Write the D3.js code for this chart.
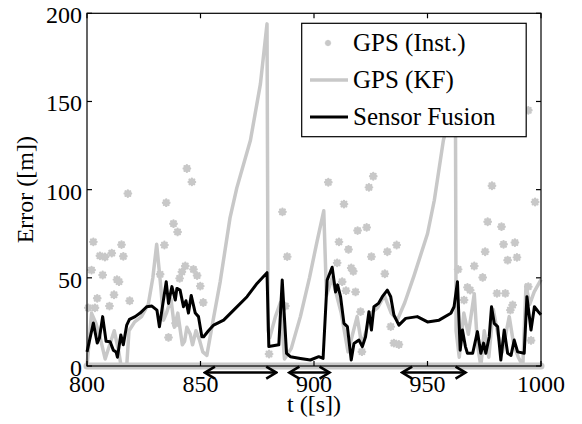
<!DOCTYPE html>
<html lang="en">
<head>
    <meta charset="UTF-8">
    <title>GPS error vs sensor fusion</title>
    <script src="https://cdn.jsdelivr.net/npm/d3@7"></script>
    <style>
        body { margin: 0; background: #fff; }
        svg text { font-family: "Liberation Serif", "Times New Roman", serif; fill: #000; }
    </style>
</head>
<body>
<div id="chart"></div>
<script>
    // GPS (Inst.) fixes: time [s] / error [m]
    var gpsT = [800.6, 802.0, 802.8, 803.5, 804.5, 805.7, 806.9, 807.9, 809.9, 810.9, 811.9, 813.2, 814.1, 815.2, 816.0,
        818.0, 818.8, 832.2, 834.1, 834.9, 835.9, 838.1, 839.0, 839.9, 840.8, 841.8, 843.3, 844.0, 846.2, 846.9,
        848.5, 849.9, 851.2, 880.2, 886.1, 887.4, 888.2, 906.3, 910.2, 911.0, 912.4, 913.2, 914.1, 915.2, 916.4,
        917.3, 918.3, 919.2, 920.5, 921.1, 923.2, 924.2, 925.3, 926.1, 931.2, 932.3, 933.8, 935.2, 936.4, 937.4,
        963.5, 966.1, 967.6, 968.8, 970.6, 974.3, 975.4, 976.5, 978.4, 980.6, 982.6, 983.5, 984.3, 985.3, 986.5,
        987.5, 988.5, 989.4, 994.4, 994.4, 995.6, 997.4];
    var gpsV = [33, 54.4, 70.4, 33, 38.4, 62.5, 51.6, 61.8, 34, 64, 40.4, 49, 47.8, 68.8, 62.2,
        97.8, 37, 52, 68.6, 92.6, 16.2, 80.7, 24.2, 76, 49.7, 53.4, 56.7, 112, 104.4, 54.8,
        51.3, 45.3, 36, 6.8, 87.4, 34, 62, 104.2, 58.5, 70.4, 47.8, 91.8, 42.7, 66.1, 55.6,
        53.7, 42, 76.8, 30.8, 8.1, 78.6, 101.3, 62, 107.6, 52.3, 64.8, 22.3, 13, 68.6, 12.2,
        54.8, 37.4, 44.6, 43, 56.7, 50.2, 64.8, 81.8, 102.2, 41.2, 79, 69, 41.2, 60, 31.7,
        34.6, 70, 61.6, 145, 45, 14.5, 93];

    // GPS (KF)
    var kfT = [800, 802, 804, 806, 808, 810, 812, 814, 815, 817.5, 818.5, 821, 824, 827, 829, 830.7, 832.5, 833.7,
        835, 837, 838.5, 840, 842, 843, 844, 845.5, 846.5, 848, 849.5, 851, 852.8, 855, 858.7, 863, 866, 872,
        876.4, 879.3, 879.8, 880.5, 883, 885.2, 887, 890, 894, 898, 901.4, 904.3, 905.5, 908, 910, 912, 915,
        917, 919, 921, 923, 925, 928, 931, 934, 936.7, 940, 944, 950, 953, 957, 961.5, 962.3, 962.6, 964, 966,
        968, 970.6, 972, 973.5, 975, 977, 979, 981, 983, 986, 988, 990, 992, 993.4, 995, 997, 1000];
    var kfV = [0, 30, 24, 15, 4, 12, 20, 8, 0, 0, 20, 25, 28, 35, 50, 69, 45, 26,
        30, 38, 22, 30, 12, 14, 22, 18, 12, 20, 15, 8, 6, 22, 48, 84, 101, 128,
        160, 194, 20, 16, 28, 36, 4, 10, 28, 50, 71, 88, 40, 50, 40, 30, 8,
        18, 28, 12, 20, 30, 33, 40, 30, 26, 36, 51, 75, 94, 128, 150, 150, 20, 5, 30,
        18, 41, 12, 0, 20, 5, 32, 18, 8, 28, 12, 5, 0, 46, 35, 42, 49];

    // Sensor Fusion
    var sfT = [800, 802.8, 804.5, 805.5, 806.9, 808.4, 810.2, 811.6, 812.8, 813.4, 814.9, 816, 817.5, 818.7, 821.2,
        823.4, 826.3, 828.6, 830.8, 831.9, 833, 834.9, 835.9, 837.4, 838.9, 839.6, 841, 842.5, 843.6, 844.7,
        845.9, 847.7, 849.1, 850.6, 851.4, 853.5, 855.8, 860.2, 864.6, 870.5, 874.9, 879.3, 880.1, 884.5, 886,
        887.9, 889.6, 894, 898.4, 902.1, 904, 905.8, 908, 909.5, 910.4, 911.7, 913.2, 914.7, 916.4, 917.6,
        919.8, 921.3, 922.7, 924.2, 925.3, 926.4, 928.4, 930.1, 932.3, 933.8, 935.2, 937.4, 940.4, 945.5, 950,
        955.1, 960.3, 961.7, 963.2, 964.4, 965.4, 966.7, 967.6, 969.9, 972, 973.5, 974.7, 975.7, 977.2, 978.2,
        979.4, 980.9, 982.3, 983.8, 985.3, 986.8, 988.2, 989.7, 992.6, 993.8, 995.6, 997.1, 999.3, 1000];
    var sfV = [8, 24.4, 13, 16, 28, 14, 13.8, 9, 8, 5, 17.6, 12, 23.2, 26.4, 28,
        30, 33.6, 34, 31.7, 22.3, 31.7, 47.8, 35.5, 45, 37.4, 44, 43, 33.6, 37, 30,
        40, 30, 28, 16.6, 16.6, 20, 23.2, 26, 31.7, 39.3, 46.8, 52.9, 11, 12, 48.7,
        7.2, 5.3, 4.3, 3.4, 5.3, 4.3, 48.7, 56, 42, 46, 39.3, 24.2, 22.3, 3.4, 12.8,
        14.7, 11, 16.6, 30.8, 20.4, 33.6, 35.5, 39.3, 43, 39.3, 28.9, 23.2, 27, 28, 25,
        26, 29.9, 33.6, 47.8, 9, 20.4, 11, 7.2, 7.2, 19.5, 7.2, 13, 7.2, 16.6, 33.6,
        24.2, 22.3, 3.4, 20.4, 7.2, 6, 14.7, 8, 7.2, 39.3, 20.4, 33.6, 30, 29];

    // GPS outages (start, end) and the zero-error baseline
    var outageStart = [851.5, 888.7, 938.4];
    var outageEnd = [883.8, 907.3, 967.2];
    var baseT = [800, 1000];

    var xTicks = [800, 850, 900, 950, 1000];
    var yTicks = [0, 50, 100, 150, 200];
    var legendLabels = ['GPS (Inst.)', 'GPS (KF)', 'Sensor Fusion'];

    var W = 582, H = 424;
    var gray = '#c8c8c8';
    // plot box (note: window.top is read-only, so use other names)
    var pL = 87, pR = 541, pT = 13.3, pB = 366;

    var x = d3.scaleLinear().domain([800, 1000]).range([pL, pR]);
    var y = d3.scaleLinear().domain([0, 200]).range([pB, pT]);

    var svg = d3.select('#chart').append('svg')
        .attr('width', W).attr('height', H);

    svg.append('defs').append('marker')
        .attr('id', 'head')
        .attr('viewBox', '-12 -8 14 16')
        .attr('refX', 0).attr('refY', 0)
        .attr('markerUnits', 'userSpaceOnUse')
        .attr('markerWidth', 14).attr('markerHeight', 16)
        .attr('orient', 'auto-start-reverse')
        .append('path')
        .attr('d', 'M-10,-6L0,0L-10,6')
        .attr('fill', 'none').attr('stroke', '#000')
        .attr('stroke-width', 2.6).attr('stroke-linejoin', 'miter');

    var line = d3.line().x(d => x(d[0])).y(d => y(d[1]));

    // baseline
    svg.append('path')
        .datum(baseT.map(t => [t, 0]))
        .attr('d', line)
        .attr('fill', 'none').attr('stroke', gray)
        .attr('stroke-width', 7).attr('stroke-linecap', 'round');

    // GPS inst markers (asterisk-like)
    var star = 'M-3.2,0H3.2M0,-3.2V3.2M-2.3,-2.3L2.3,2.3M-2.3,2.3L2.3,-2.3';
    svg.append('g').selectAll('path')
        .data(gpsT.map((t, i) => [t, gpsV[i]]))
        .join('path')
        .attr('transform', d => `translate(${x(d[0])},${y(d[1])})`)
        .attr('d', star)
        .attr('stroke', gray).attr('stroke-width', 2.4).attr('stroke-linecap', 'round');

    svg.append('path')
        .datum(kfT.map((t, i) => [t, kfV[i]]))
        .attr('d', line)
        .attr('fill', 'none').attr('stroke', gray)
        .attr('stroke-width', 3.5).attr('stroke-linejoin', 'round');

    svg.append('path')
        .datum(sfT.map((t, i) => [t, sfV[i]]))
        .attr('d', line)
        .attr('fill', 'none').attr('stroke', '#000')
        .attr('stroke-width', 3).attr('stroke-linejoin', 'round');

    // outage arrows
    svg.append('g').selectAll('line')
        .data(outageStart.map((s, i) => [s, outageEnd[i]]))
        .join('line')
        .attr('x1', d => x(d[0]) + 1).attr('x2', d => x(d[1]) - 1)
        .attr('y1', y(-3.7)).attr('y2', y(-3.7))
        .attr('stroke', '#000').attr('stroke-width', 2.6)
        .attr('marker-start', 'url(#head)').attr('marker-end', 'url(#head)');

    // axes box
    svg.append('rect')
        .attr('x', pL).attr('y', pT)
        .attr('width', pR - pL).attr('height', pB - pT)
        .attr('fill', 'none').attr('stroke', '#000').attr('stroke-width', 1.2);

    var tl = 5;
    var tickG = svg.append('g').attr('stroke', '#000').attr('stroke-width', 1.2);
    xTicks.forEach(function (t) {
        tickG.append('line').attr('x1', x(t)).attr('x2', x(t)).attr('y1', pB).attr('y2', pB - tl);
        tickG.append('line').attr('x1', x(t)).attr('x2', x(t)).attr('y1', pT).attr('y2', pT + tl);
    });
    yTicks.forEach(function (v) {
        tickG.append('line').attr('x1', pL).attr('x2', pL + tl).attr('y1', y(v)).attr('y2', y(v));
        tickG.append('line').attr('x1', pR).attr('x2', pR - tl).attr('y1', y(v)).attr('y2', y(v));
    });

    svg.append('g').selectAll('text')
        .data(xTicks).join('text')
        .attr('x', d => x(d)).attr('y', pB + 26)
        .attr('text-anchor', 'middle').attr('font-size', 24)
        .text(d => d);

    svg.append('g').selectAll('text')
        .data(yTicks).join('text')
        .attr('x', pL - 5).attr('y', d => y(d) + 10)
        .attr('text-anchor', 'end').attr('font-size', 24)
        .text(d => d);

    svg.append('text')
        .attr('x', (pL + pR) / 2).attr('y', 412)
        .attr('text-anchor', 'middle').attr('font-size', 24)
        .text('t ([s])');

    svg.append('text')
        .attr('transform', `translate(33,${(pT + pB) / 2}) rotate(-90)`)
        .attr('text-anchor', 'middle').attr('font-size', 24)
        .text('Error ([m])');

    // legend
    var lg = svg.append('g');
    lg.append('rect')
        .attr('x', 301.7).attr('y', 23.3).attr('width', 224.5).attr('height', 113.4)
        .attr('fill', '#fff').attr('stroke', '#000').attr('stroke-width', 1.2);
    var rowY = [43, 80, 117];
    lg.append('path')
        .attr('transform', `translate(328,${rowY[0]}) scale(0.7)`)
        .attr('d', star).attr('stroke', gray).attr('stroke-width', 3).attr('stroke-linecap', 'round');
    lg.append('line').attr('x1', 310).attr('x2', 348).attr('y1', rowY[1]).attr('y2', rowY[1])
        .attr('stroke', gray).attr('stroke-width', 3.5);
    lg.append('line').attr('x1', 310).attr('x2', 348).attr('y1', rowY[2]).attr('y2', rowY[2])
        .attr('stroke', '#000').attr('stroke-width', 3);
    lg.selectAll('text.lab')
        .data(legendLabels).join('text')
        .attr('class', 'lab')
        .attr('x', 353).attr('y', (d, i) => rowY[i] + 8)
        .attr('font-size', 25)
        .attr('xml:space', 'preserve')
        .text(d => d);
</script>
</body>
</html>
